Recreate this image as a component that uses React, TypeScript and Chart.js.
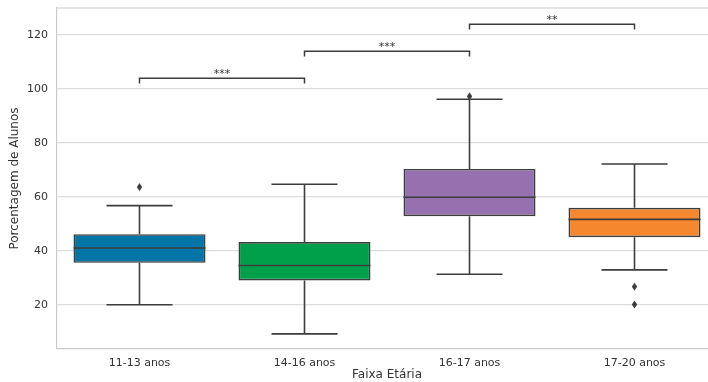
import React, { useEffect, useRef } from "react";
import { Chart, registerables } from "chart.js";

Chart.register(...registerables);

const categories = ["11-13 anos", "14-16 anos", "16-17 anos", "17-20 anos"];
const whiskerLow = [20.1, 9.3, 31.4, 33.0];
const q1 = [35.6, 29.1, 52.9, 45.1];
const medians = [41.1, 34.6, 59.9, 51.7];
const q3 = [46.2, 43.3, 70.4, 56.0];
const whiskerHigh = [56.8, 64.7, 96.2, 72.2];
const outlierCats = ["11-13 anos", "16-17 anos", "17-20 anos", "17-20 anos"];
const outlierValues = [63.7, 97.3, 26.8, 20.2];
const boxColors = ["#0376a7", "#00a04b", "#9671b0", "#f5882f"];
const yTicks = [20, 40, 60, 80, 100, 120];
const brackets = [
  { from: 0, to: 1, level: 104, label: "***" },
  { from: 1, to: 2, level: 114, label: "***" },
  { from: 2, to: 3, level: 124, label: "**" },
];

const LINE = "#3d3d3d";

function makeDiamond(): HTMLCanvasElement {
  const c = document.createElement("canvas");
  c.width = 7;
  c.height = 9;
  const g = c.getContext("2d")!;
  g.fillStyle = LINE;
  g.beginPath();
  g.moveTo(3.5, 0.5);
  g.lineTo(6.2, 4.5);
  g.lineTo(3.5, 8.5);
  g.lineTo(0.8, 4.5);
  g.closePath();
  g.fill();
  return c;
}

const boxPlugin = {
  id: "boxExtras",
  afterDatasetsDraw(chart: any) {
    const { ctx, scales } = chart;
    const x = scales.x;
    const y = scales.y;
    const meta = chart.getDatasetMeta(0);
    ctx.save();
    ctx.strokeStyle = LINE;
    ctx.lineWidth = 1.6;
    categories.forEach((_, i) => {
      const bar = meta.data[i];
      const half = bar.width / 2;
      const cx = x.getPixelForValue(i);
      const capHalf = half / 2;
      ctx.beginPath();
      ctx.moveTo(cx, y.getPixelForValue(q3[i]));
      ctx.lineTo(cx, y.getPixelForValue(whiskerHigh[i]));
      ctx.moveTo(cx - capHalf, y.getPixelForValue(whiskerHigh[i]));
      ctx.lineTo(cx + capHalf, y.getPixelForValue(whiskerHigh[i]));
      ctx.moveTo(cx, y.getPixelForValue(q1[i]));
      ctx.lineTo(cx, y.getPixelForValue(whiskerLow[i]));
      ctx.moveTo(cx - capHalf, y.getPixelForValue(whiskerLow[i]));
      ctx.lineTo(cx + capHalf, y.getPixelForValue(whiskerLow[i]));
      ctx.moveTo(cx - half, y.getPixelForValue(medians[i]));
      ctx.lineTo(cx + half, y.getPixelForValue(medians[i]));
      ctx.stroke();
    });
    ctx.lineWidth = 1.5;
    ctx.fillStyle = "#333333";
    ctx.font = "11px 'DejaVu Sans'";
    ctx.textAlign = "center";
    ctx.textBaseline = "alphabetic";
    brackets.forEach((b) => {
      const x1 = x.getPixelForValue(b.from);
      const x2 = x.getPixelForValue(b.to);
      const yl = y.getPixelForValue(b.level);
      const yd = y.getPixelForValue(b.level - 2);
      ctx.beginPath();
      ctx.moveTo(x1, yd);
      ctx.lineTo(x1, yl);
      ctx.lineTo(x2, yl);
      ctx.lineTo(x2, yd);
      ctx.stroke();
      ctx.fillText(b.label, (x1 + x2) / 2, yl - 1);
    });
    ctx.strokeStyle = "#cccccc";
    ctx.lineWidth = 1.2;
    ctx.beginPath();
    ctx.moveTo(chart.chartArea.left, chart.chartArea.top);
    ctx.lineTo(chart.chartArea.right, chart.chartArea.top);
    ctx.stroke();
    ctx.restore();
  },
};

export default function App() {
  const ref = useRef<HTMLCanvasElement>(null);
  useEffect(() => {
    const diamond = makeDiamond();
    const chart = new Chart(ref.current!, {
      type: "bar",
      data: {
        labels: categories,
        datasets: [
          {
            type: "bar",
            data: categories.map((_, i) => [q1[i], q3[i]]) as any,
            backgroundColor: boxColors,
            borderColor: LINE,
            borderWidth: 1.6,
            borderSkipped: false,
            categoryPercentage: 1,
            barPercentage: 0.8,
          } as any,
          {
            type: "scatter",
            data: outlierCats.map((c, i) => ({ x: c, y: outlierValues[i] })),
            pointStyle: diamond as any,
            pointRadius: 4,
          } as any,
        ],
      },
      options: {
        animation: false,
        responsive: false,
        maintainAspectRatio: false,
        layout: { padding: { top: 8, right: 23, left: 0, bottom: 0 } },
        plugins: { legend: { display: false }, tooltip: { enabled: false } },
        scales: {
          x: {
            type: "category",
            offset: true,
            grid: { display: false, drawTicks: false },
            border: { display: true, color: "#cccccc", width: 1.2 },
            ticks: {
              color: "#333333",
              font: { family: "'DejaVu Sans'", size: 11 },
              padding: 8,
            },
            title: {
              display: true,
              text: "Faixa Etária",
              color: "#333333",
              font: { family: "'DejaVu Sans'", size: 12 },
              padding: { top: 4, bottom: 0 },
            },
            afterFit(scale: any) {
              scale.height = 33;
              scale.paddingLeft = 0;
              scale.paddingRight = 0;
            },
          },
          y: {
            type: "linear",
            min: 3.7,
            max: 130,
            grid: { color: "#dddddd", lineWidth: 1.2, drawTicks: false },
            border: { display: true, color: "#cccccc", width: 1.2 },
            ticks: {
              color: "#333333",
              font: { family: "'DejaVu Sans'", size: 11 },
              padding: 9,
            },
            afterBuildTicks(scale: any) {
              scale.ticks = yTicks.map((v) => ({ value: v }));
            },
            title: {
              display: true,
              text: "Porcentagem de Alunos",
              color: "#333333",
              font: { family: "'DejaVu Sans'", size: 12 },
              padding: { top: 8, bottom: 0 },
            },
            afterFit(scale: any) {
              scale.width = 57;
              scale.paddingTop = 0;
              scale.paddingBottom = 0;
            },
          },
        },
      },
      plugins: [boxPlugin],
    });
    return () => chart.destroy();
  }, []);
  return (
    <div
      style={{
        position: "fixed",
        left: 0,
        top: 0,
        width: 708,
        height: 382,
        overflow: "hidden",
        background: "#ffffff",
      }}
    >
      <canvas ref={ref} width={740} height={382} style={{ display: "block" }} />
    </div>
  );
}
